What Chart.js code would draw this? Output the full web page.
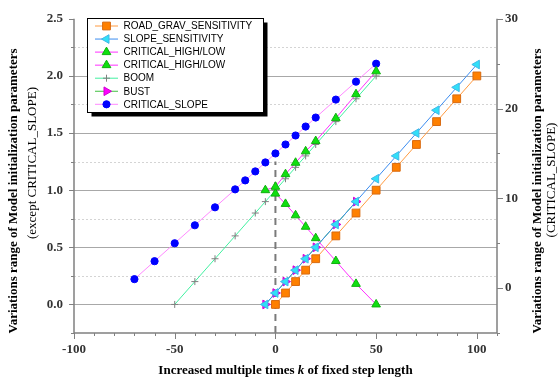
<!DOCTYPE html>
<html>
<head>
<meta charset="utf-8">
<script src="https://cdn.jsdelivr.net/npm/chart.js@4/dist/chart.umd.min.js"></script>
<style>
  html, body { margin: 0; padding: 0; background: #fff; }
  #chart { display: block; }
</style>
</head>
<body>
<canvas id="chart" width="558" height="379"></canvas>
<script>
// k values and series
const kRoad = [0, 5, 10, 15, 20, 30, 40, 50, 60, 70, 80, 90, 100];
const roadGrav = [0, 0.1, 0.2, 0.3, 0.4, 0.6, 0.8, 1.0, 1.2, 1.4, 1.6, 1.8, 2.0];

const kSlope = [-5, 0, 5, 10, 15, 20, 30, 40, 50, 60, 70, 80, 90, 100];
const slopeSens = [0, 0.1, 0.2, 0.3, 0.4, 0.5, 0.7, 0.9, 1.1, 1.3, 1.5, 1.7, 1.9, 2.1];

const kHigh = [-5, 0, 5, 10, 15, 20, 30, 40, 50];
const critHigh = [1.0, 1.03, 1.14, 1.24, 1.34, 1.43, 1.63, 1.84, 2.04];

const kLow = [0, 5, 10, 15, 20, 30, 40, 50];
const critLow = [0.97, 0.88, 0.78, 0.68, 0.58, 0.38, 0.18, 0.0];

const kBoom = [-50, -40, -30, -20, -10, -5, 0, 5, 10, 15, 20, 30, 40, 50];
const boom = [0, 0.2, 0.4, 0.6, 0.8, 0.9, 1.0, 1.1, 1.2, 1.3, 1.4, 1.6, 1.8, 2.0];

const kBust = [-5, 0, 5, 10, 15, 20, 30, 40];
const bust = [0, 0.1, 0.2, 0.3, 0.4, 0.5, 0.7, 0.9];

// CRITICAL_SLOPE is on the right axis
const kCrit = [-70, -60, -50, -40, -30, -20, -15, -10, -5, 0, 5, 10, 15, 20, 30, 40, 50];
const critSlope = [1, 3, 5, 7, 9, 11, 12, 13, 14, 15, 16, 17, 18, 19, 21, 23, 25];

// dashed marker at k = 0
const refK = [0, 0];
const refY = [-0.25, 1.25];

const pts = (xs, ys) => xs.map((x, i) => ({ x: x, y: ys[i] }));

const SERIF = "'Liberation Serif', 'Times New Roman', serif";
const SANS = "'Liberation Sans', Arial, sans-serif";

const datasets = [
    {
        label: 'ROAD_GRAV_SENSITIVITY', data: pts(kRoad, roadGrav), yAxisID: 'y',
        borderColor: '#ff9a40', backgroundColor: '#ff8000',
        pointStyle: 'rect', pointRadius: 5.5, pointBorderColor: '#d86a10', pointBorderWidth: 1,
    },
    {
        label: 'SLOPE_SENSITIVITY', data: pts(kSlope, slopeSens), yAxisID: 'y',
        borderColor: '#3b8cf0', backgroundColor: '#30e0f8',
        pointStyle: 'triangle', pointRotation: -90, pointRadius: 5, pointBorderColor: '#40b8e8', pointBorderWidth: 1,
    },
    {
        label: 'CRITICAL_HIGH/LOW', data: pts(kHigh, critHigh), yAxisID: 'y',
        borderColor: '#ff30ff', backgroundColor: '#10e010',
        pointStyle: 'triangle', pointRadius: 5, pointBorderColor: '#10b010', pointBorderWidth: 1,
    },
    {
        label: 'CRITICAL_HIGH/LOW', data: pts(kLow, critLow), yAxisID: 'y',
        borderColor: '#ff30ff', backgroundColor: '#10e010',
        pointStyle: 'triangle', pointRadius: 5, pointBorderColor: '#10b010', pointBorderWidth: 1,
    },
    {
        label: 'BOOM', data: pts(kBoom, boom), yAxisID: 'y',
        borderColor: '#40f0a0', backgroundColor: '#808080',
        pointStyle: 'cross', pointRadius: 3.5, pointBorderColor: '#808080', pointBorderWidth: 1,
    },
    {
        label: 'BUST', data: pts(kBust, bust), yAxisID: 'y',
        borderColor: '#40c040', backgroundColor: '#ff00ff',
        pointStyle: 'triangle', pointRotation: 90, pointRadius: 5, pointBorderColor: '#d000d0', pointBorderWidth: 1,
    },
    {
        label: 'CRITICAL_SLOPE', data: pts(kCrit, critSlope), yAxisID: 'y2',
        borderColor: '#ff88ff', backgroundColor: '#0000ff',
        pointStyle: 'circle', pointRadius: 3.6, pointBorderColor: '#0000ff', pointBorderWidth: 1,
    },
    {
        label: '_ref', data: pts(refK, refY), yAxisID: 'y',
        borderColor: '#7a7a7a', borderWidth: 2, borderDash: [7, 5], pointRadius: 0,
    },
];
datasets.forEach(d => {
    if (d.borderWidth === undefined) d.borderWidth = 1;
    d.pointBackgroundColor = d.backgroundColor;
    d.fill = false;
    d.tension = 0;
});

const isMajorY = v => v >= 0 && Math.abs(v * 2 - Math.round(v * 2)) < 1e-6;

// gridlines behind the data
const gridPlugin = {
    id: 'gridLines',
    beforeDatasetsDraw(chart) {
        const { ctx, chartArea: a, scales } = chart;
        ctx.save();
        scales.y.ticks.forEach(t => {
            if (t.value <= -0.25 + 1e-6 || t.value >= 2.5 - 1e-6) return;
            const py = Math.round(scales.y.getPixelForValue(t.value)) + 0.5;
            if (isMajorY(t.value)) {
                ctx.strokeStyle = '#a8a8a8';
                ctx.setLineDash([]);
            } else {
                ctx.strokeStyle = '#d4d4d4';
                ctx.setLineDash([2, 2]);
            }
            ctx.lineWidth = 1;
            ctx.beginPath();
            ctx.moveTo(a.left, py);
            ctx.lineTo(a.right, py);
            ctx.stroke();
        });
        ctx.restore();
    }
};

// axis lines, tick marks, titles and boxed legend on top
const framePlugin = {
    id: 'frame',
    afterDraw(chart) {
        const { ctx, chartArea: a, scales } = chart;
        ctx.save();
        ctx.strokeStyle = '#808080';
        ctx.lineWidth = 1.5;
        ctx.setLineDash([]);
        ctx.beginPath();
        ctx.moveTo(a.left, a.top); ctx.lineTo(a.left, a.bottom); ctx.lineTo(a.right, a.bottom); ctx.lineTo(a.right, a.top);
        ctx.stroke();

        ctx.lineWidth = 1;
        ctx.beginPath();
        scales.x.ticks.forEach(t => {
            const px = Math.round(scales.x.getPixelForValue(t.value)) + 0.5;
            const len = t.value % 50 === 0 ? 6 : 3;
            ctx.moveTo(px, a.bottom); ctx.lineTo(px, a.bottom + len);
        });
        scales.y.ticks.forEach(t => {
            const py = Math.round(scales.y.getPixelForValue(t.value)) + 0.5;
            const len = isMajorY(t.value) ? 5 : 3;
            ctx.moveTo(a.left, py); ctx.lineTo(a.left - len, py);
        });
        scales.y2.ticks.forEach(t => {
            const py = Math.round(scales.y2.getPixelForValue(t.value)) + 0.5;
            const len = t.value % 10 === 0 ? 6 : 3;
            ctx.moveTo(a.right, py); ctx.lineTo(a.right + len, py);
        });
        ctx.stroke();

        // x title with italic k
        ctx.fillStyle = '#000';
        ctx.textBaseline = 'alphabetic';
        const parts = [
            ['Increased multiple times ', 'bold 13px ' + SERIF],
            ['k', 'italic bold 13px ' + SERIF],
            [' of fixed step length', 'bold 13px ' + SERIF],
        ];
        let total = 0;
        parts.forEach(p => { ctx.font = p[1]; total += ctx.measureText(p[0]).width; });
        let tx = (a.left + a.right) / 2 - total / 2;
        ctx.textAlign = 'left';
        parts.forEach(p => { ctx.font = p[1]; ctx.fillText(p[0], tx, 374); tx += ctx.measureText(p[0]).width; });

        // vertical titles
        const vText = (txt, font, cx, cy) => {
            ctx.save();
            ctx.translate(cx, cy);
            ctx.rotate(-Math.PI / 2);
            ctx.font = font;
            ctx.textAlign = 'center';
            ctx.textBaseline = 'middle';
            ctx.fillText(txt, 0, 0);
            ctx.restore();
        };
        vText('Variations range of Model initialization parameters', 'bold 13px ' + SERIF, 14, 191);
        vText('(except CRITICAL_SLOPE)', '13px ' + SERIF, 33, 163);
        vText('Variations range of Model initialization parameters', 'bold 13px ' + SERIF, 538, 191);
        vText('(CRITICAL_SLOPE)', '13px ' + SERIF, 552, 180);

        // legend box with drop shadow
        const bx = 87.5, by = 18.5, bw = 176, bh = 94;
        ctx.fillStyle = '#000';
        ctx.fillRect(bx + 4, by + 4, bw, bh);
        ctx.fillStyle = '#fff';
        ctx.fillRect(bx, by, bw, bh);
        ctx.strokeStyle = '#000';
        ctx.lineWidth = 1;
        ctx.strokeRect(bx, by, bw, bh);

        ctx.font = '10px ' + SANS;
        ctx.textAlign = 'left';
        ctx.textBaseline = 'middle';
        chart.data.datasets.filter(d => d.label !== '_ref').forEach((d, i) => {
            const ry = 26 + i * 13.05;
            ctx.strokeStyle = d.borderColor;
            ctx.lineWidth = 1;
            ctx.beginPath();
            ctx.moveTo(95, ry); ctx.lineTo(118, ry);
            ctx.stroke();
            ctx.fillStyle = d.pointBackgroundColor;
            ctx.strokeStyle = d.pointBorderColor;
            Chart.helpers.drawPoint(ctx, {
                pointStyle: d.pointStyle, rotation: d.pointRotation || 0,
                radius: d.pointRadius, borderWidth: d.pointBorderWidth,
            }, 106.5, ry);
            ctx.fillStyle = '#000';
            ctx.fillText(d.label, 123.5, ry + 0.5);
        });
        ctx.restore();
    }
};

const tickFont = { family: SERIF, size: 13, weight: 'bold' };

new Chart(document.getElementById('chart'), {
    type: 'line',
    data: { datasets: datasets },
    options: {
        responsive: false,
        animation: false,
        devicePixelRatio: 1,
        layout: { padding: { top: 17, left: 0, right: 0, bottom: 0 } },
        plugins: { legend: { display: false }, tooltip: { enabled: false } },
        elements: { point: { hitRadius: 0 } },
        scales: {
            x: {
                type: 'linear', min: -100, max: 110,
                grid: { display: false, drawTicks: false },
                border: { display: false },
                ticks: {
                    stepSize: 10, autoSkip: false, maxRotation: 0, padding: 9,
                    color: '#333', font: tickFont,
                    callback: v => (v % 50 === 0 ? String(v) : ''),
                },
                afterFit: s => { s.height = 46; },
            },
            y: {
                type: 'linear', position: 'left', min: -0.25, max: 2.5,
                grid: { display: false, drawTicks: false },
                border: { display: false },
                ticks: {
                    stepSize: 0.25, autoSkip: false, padding: 11,
                    color: '#333', font: tickFont,
                    callback: v => (isMajorY(v) ? v.toFixed(1) : ''),
                },
                afterFit: s => { s.width = 74; },
            },
            y2: {
                type: 'linear', position: 'right', min: -5, max: 30,
                grid: { display: false, drawTicks: false },
                border: { display: false },
                ticks: {
                    stepSize: 5, autoSkip: false, padding: 8,
                    color: '#333', font: tickFont,
                    callback: v => (v % 10 === 0 ? String(v) : ''),
                },
                afterFit: s => { s.width = 61; },
            },
        },
    },
    plugins: [gridPlugin, framePlugin],
});
</script>
</body>
</html>
